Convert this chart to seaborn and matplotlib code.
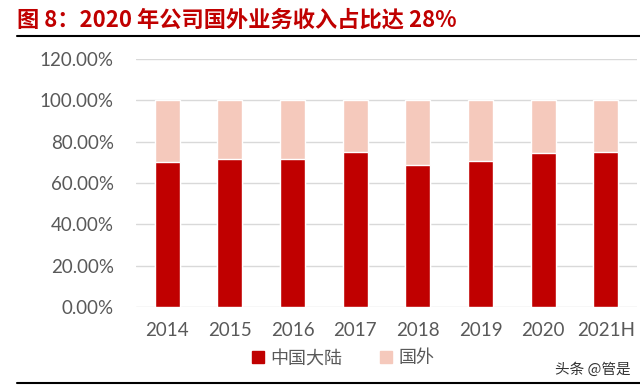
import matplotlib
matplotlib.use("Agg")
import matplotlib.pyplot as plt
import matplotlib.lines as mlines
from matplotlib.ticker import PercentFormatter, MultipleLocator
import seaborn as sns
import numpy as np
import pandas as pd

# data (share of revenue)
years = ["2014", "2015", "2016", "2017", "2018", "2019", "2020", "2021H"]
mainland = [0.703, 0.716, 0.716, 0.751, 0.688, 0.708, 0.746, 0.751]
overseas = [0.297, 0.284, 0.284, 0.249, 0.312, 0.292, 0.254, 0.249]
series_names = ["中国大陆", "国外"]
title_text = "图 8：2020 年公司国外业务收入占比达 28%"
watermark = "头条 @管是"

red = "#C00000"
pink = "#F5C9BC"
grey_text = "#595959"

sns.set_theme(style="white")
plt.rcParams["font.family"] = ["Lato", "Noto Sans CJK SC", "DejaVu Sans"]

df = pd.DataFrame({"year": years, "mainland": mainland, "overseas": overseas})
df["total"] = df["mainland"] + df["overseas"]

fig = plt.figure(figsize=(6.4, 3.9), dpi=100)
ax = fig.add_axes([0.2125, 0.213, 0.783, 0.636])

# stacked bars: total (pink) behind, mainland (red) in front
sns.barplot(data=df, x="year", y="total", color=pink, width=0.4,
            saturation=1, ax=ax, zorder=2)
sns.barplot(data=df, x="year", y="mainland", color=red, width=0.4,
            saturation=1, ax=ax, zorder=3)

ax.set_ylim(0, 1.2)
ax.set_xlim(-0.5, len(years) - 0.5)
ax.yaxis.set_major_locator(MultipleLocator(0.2))
ax.yaxis.set_major_formatter(PercentFormatter(xmax=1, decimals=2))
ax.grid(axis="y", color="#D9D9D9", linewidth=1.0, zorder=0)
ax.set_axisbelow(True)
for s in ax.spines.values():
    s.set_visible(False)
ax.tick_params(axis="both", length=0, labelsize=13.5, labelcolor=grey_text)
ax.tick_params(axis="y", pad=16)
ax.tick_params(axis="x", pad=11)
ax.set_xlabel("")
ax.set_ylabel("")

handles = [mlines.Line2D([], [], marker="s", linestyle="None", markersize=8,
                         markerfacecolor=c, markeredgecolor=c, label=n)
           for c, n in zip([red, pink], series_names)]
fig.legend(handles=handles, loc="center", bbox_to_anchor=(0.535, 0.083),
           ncol=2, frameon=False, fontsize=13, handlelength=0.8,
           handletextpad=0.3, columnspacing=2.0, labelcolor=grey_text)

fig.text(0.027, 0.948, title_text, color=red, fontsize=16, fontweight="bold",
         ha="left", va="center", family=["Noto Sans CJK SC", "DejaVu Sans"])
fig.add_artist(mlines.Line2D([0.027, 1.0], [0.908, 0.908], color="black",
                             linewidth=1.5, transform=fig.transFigure))
fig.add_artist(mlines.Line2D([0.027, 1.0], [0.018, 0.018], color="black",
                             linewidth=1.5, transform=fig.transFigure))
fig.text(0.985, 0.052, watermark, color="#333333", fontsize=10.5,
         ha="right", va="center", family=["Noto Sans CJK SC", "DejaVu Sans"])

fig.savefig("out.png", dpi=100)
